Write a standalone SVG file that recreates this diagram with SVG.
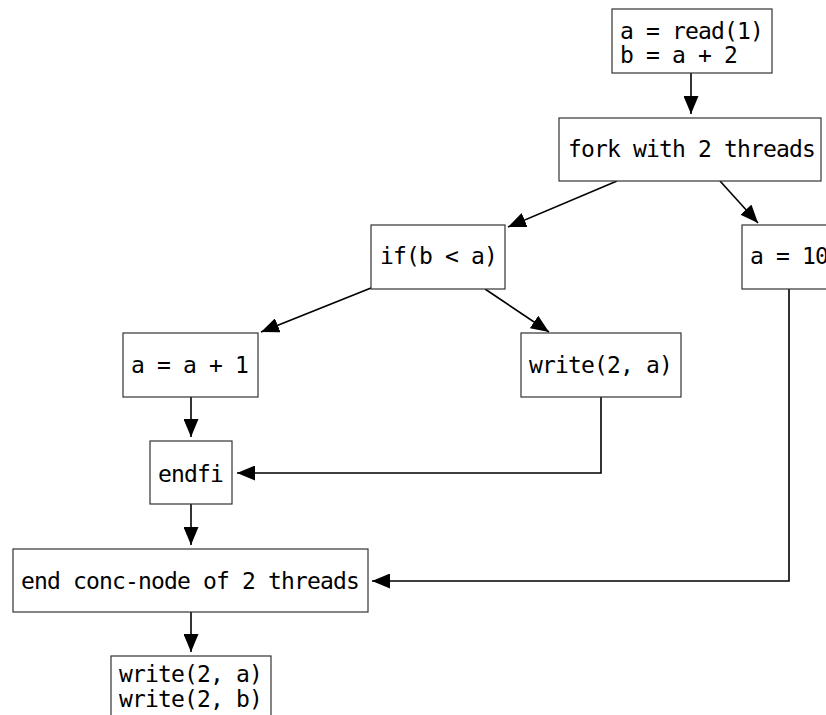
<svg xmlns="http://www.w3.org/2000/svg" width="826" height="715" viewBox="0 0 826 715">
<style>
  .box { fill: #ffffff; stroke: #333333; stroke-width: 1.2; }
  .lbl { font-family: "DejaVu Sans Mono", "Liberation Mono", monospace; font-size: 23px; letter-spacing: -0.85px; fill: #000000; }
  .edge { fill: none; stroke: #000000; stroke-width: 1.6; marker-end: url(#arrow); }
</style>
<defs>
  <marker id="arrow" markerUnits="userSpaceOnUse" markerWidth="18" markerHeight="15" refX="18" refY="7.5" orient="auto">
    <path d="M0,0 L18,7.5 L0,15 z" fill="#000000"/>
  </marker>
</defs>
<rect width="826" height="715" fill="#ffffff"/>
<g id="connectors">
  <path class="edge" d="M691,73 L691,114"/>
  <path class="edge" d="M617,181 L508,227"/>
  <path class="edge" d="M720,181 L758,223"/>
  <path class="edge" d="M371,288 L261,332"/>
  <path class="edge" d="M485,289 L549,332"/>
  <path class="edge" d="M191,397 L191,437"/>
  <path class="edge" d="M601,397 L601,473 L237,473"/>
  <path class="edge" d="M191,504 L191,545"/>
  <path class="edge" d="M789,289 L789,581 L372,581"/>
  <path class="edge" d="M191,612 L191,652"/>
</g>
<g id="n_read">
  <rect class="box" x="612" y="9" width="160" height="64"/>
  <text class="lbl" x="620" y="39">a = read(1)</text>
  <text class="lbl" x="620" y="63">b = a + 2</text>
</g>
<g id="n_fork">
  <rect class="box" x="559" y="118" width="262" height="63"/>
  <text class="lbl" x="568" y="157">fork with 2 threads</text>
</g>
<g id="n_if">
  <rect class="box" x="371" y="225" width="134" height="64"/>
  <text class="lbl" x="380" y="264">if(b &lt; a)</text>
</g>
<g id="n_a10">
  <rect class="box" x="742" y="225" width="96" height="64"/>
  <text class="lbl" x="750" y="264">a = 10</text>
</g>
<g id="n_inc">
  <rect class="box" x="123" y="333" width="135" height="64"/>
  <text class="lbl" x="131" y="373">a = a + 1</text>
</g>
<g id="n_write">
  <rect class="box" x="521" y="333" width="160" height="64"/>
  <text class="lbl" x="529" y="373">write(2, a)</text>
</g>
<g id="n_endfi">
  <rect class="box" x="150" y="441" width="82" height="63"/>
  <text class="lbl" x="158" y="482">endfi</text>
</g>
<g id="n_endconc">
  <rect class="box" x="13" y="549" width="355" height="63"/>
  <text class="lbl" x="21" y="589">end conc-node of 2 threads</text>
</g>
<g id="n_writes">
  <rect class="box" x="111" y="656" width="160" height="70"/>
  <text class="lbl" x="119" y="682">write(2, a)</text>
  <text class="lbl" x="119" y="707">write(2, b)</text>
</g>
</svg>
